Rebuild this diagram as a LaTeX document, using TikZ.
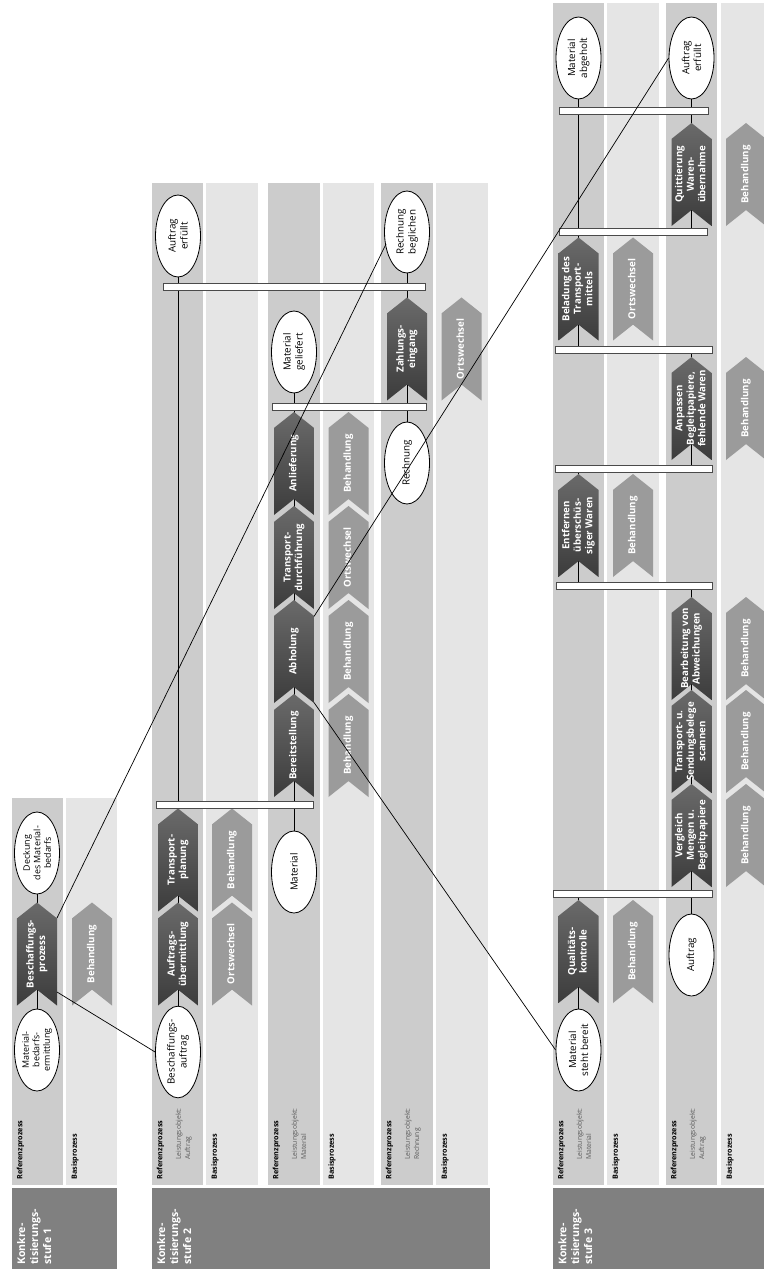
\documentclass[tikz,border=0pt]{standalone}
\usepackage{fontspec}
\setmainfont{Open Sans}
\usetikzlibrary{shapes.geometric,shapes.symbols,calc}

\definecolor{refgray}{HTML}{CCCCCC}
\definecolor{basgray}{HTML}{E5E5E5}
\definecolor{stufegray}{HTML}{808080}
\definecolor{darkhi}{HTML}{6A6A6A}
\definecolor{darklo}{HTML}{3C3C3C}
\definecolor{lightproc}{HTML}{9B9B9B}
\definecolor{barline}{HTML}{4A4A4A}
\definecolor{objgray}{HTML}{5A5A5A}

\pgfdeclarelayer{strips}
\pgfdeclarelayer{links}
\pgfsetlayers{strips,links,main}

% step text: centred lines that may stick out of the chevron body
\newcommand{\steptext}[1]{\makebox[1.9cm][c]{\begin{tabular}{@{}c@{}}#1\end{tabular}}}

\tikzset{
  procbase/.style={signal, signal to=east, signal from=west, signal pointer angle=103,
    rotate=90, minimum width=3.09cm, minimum height=1.2cm, inner sep=0pt,
    text=white, font=\fontsize{8.3}{9.8}\selectfont\bfseries},
  procdark/.style={procbase, top color=darkhi, bottom color=darklo},
  proclight/.style={procbase, fill=lightproc},
  event/.style={ellipse, draw, line width=0.7pt, fill=white, rotate=90,
    minimum width=2.46cm, minimum height=1.35cm, inner sep=0pt, align=center,
    font=\fontsize{8.4}{10.2}\selectfont},
  smallevent/.style={event, font=\fontsize{7.6}{9}\selectfont},
  syncbar/.style={rectangle, draw=barline, line width=0.8pt, fill=white,
    minimum height=0.21cm, inner sep=0pt},
  lanehead/.style={rotate=90, anchor=north west, align=left, inner sep=0pt,
    font=\fontsize{6.2}{7.5}\selectfont\bfseries},
  laneobj/.style={rotate=90, anchor=north west, align=left, inner sep=0pt,
    text=objgray, font=\fontsize{5.8}{7.8}\selectfont},
  stufehead/.style={rotate=90, anchor=north west, align=left, inner sep=0pt,
    text=white, font=\fontsize{9}{11}\selectfont\bfseries},
  link/.style={draw, line width=0.6pt}
}

\begin{document}
\begin{tikzpicture}[x=0.03cm,y=-0.03cm]
  \useasboundingbox (0,0) rectangle (764,1269);
  \clip (0,0) rectangle (764,1269);

  % lanes
  \begin{pgfonlayer}{strips}
    \fill[refgray] (12,798) rectangle (63,1185);
    \fill[basgray] (66,798) rectangle (117,1185);
    \fill[stufegray] (12,1188) rectangle (117,1269);

    \fill[refgray] (152,183) rectangle (203,1185);
    \fill[basgray] (206,183) rectangle (258,1185);
    \fill[refgray] (268,183) rectangle (320,1185);
    \fill[basgray] (323,183) rectangle (374,1185);
    \fill[refgray] (381,183) rectangle (433,1185);
    \fill[basgray] (436,183) rectangle (488,1185);
    \fill[stufegray] (152,1188) rectangle (490,1269);

    \fill[refgray] (553,3) rectangle (604,1185);
    \fill[basgray] (607,3) rectangle (659,1185);
    \fill[refgray] (666,3) rectangle (717,1185);
    \fill[basgray] (721,3) rectangle (772,1185);
    \fill[stufegray] (553,1188) rectangle (772,1269);
  \end{pgfonlayer}

  % lane headings
  \node[stufehead] (st1) at (17,1265) {Konkre-\\tisierungs-\\stufe 1};
  \node[stufehead] (st2) at (157,1265) {Konkre-\\tisierungs-\\stufe 2};
  \node[stufehead] (st3) at (558,1265) {Konkre-\\tisierungs-\\stufe 3};

  \node[lanehead] (r1) at (16.5,1180) {Referenzprozess};
  \node[lanehead] (b1) at (71,1180) {Basisprozess};
  \node[lanehead] (r2a) at (156.5,1180) {Referenzprozess};
  \node[laneobj] (o2a) at (175.5,1160) {Leistungsobjekt:\\Auftrag};
  \node[lanehead] (b2a) at (211,1180) {Basisprozess};
  \node[lanehead] (r2m) at (272.5,1180) {Referenzprozess};
  \node[laneobj] (o2m) at (291.5,1160) {Leistungsobjekt:\\Material};
  \node[lanehead] (b2m) at (328,1180) {Basisprozess};
  \node[lanehead] (r2r) at (385.5,1180) {Referenzprozess};
  \node[laneobj] (o2r) at (404.5,1160) {Leistungsobjekt:\\Rechnung};
  \node[lanehead] (b2r) at (441,1180) {Basisprozess};
  \node[lanehead] (r3m) at (557.5,1180) {Referenzprozess};
  \node[laneobj] (o3m) at (576.5,1160) {Leistungsobjekt:\\Material};
  \node[lanehead] (b3m) at (612,1180) {Basisprozess};
  \node[lanehead] (r3a) at (670.5,1180) {Referenzprozess};
  \node[laneobj] (o3a) at (689.5,1160) {Leistungsobjekt:\\Auftrag};
  \node[lanehead] (b3a) at (726,1180) {Basisprozess};

  % Konkretisierungsstufe 1
  \node[smallevent] (mbe) at (37,1050) {Material-\\bedarfs-\\ermittlung};
  \node[procdark] (bp) at (37,954) {\steptext{Beschaffungs-\\prozess}};
  \node[smallevent] (dmb) at (37,853) {Deckung\\des Material-\\bedarfs};
  \node[proclight] (bh1) at (92,954) {\steptext{Behandlung}};

  % Konkretisierungsstufe 2
  \node[event] (ba) at (178,1052) {Beschaffungs-\\auftrag};
  \node[procdark] (aue) at (178,954) {\steptext{Auftrags-\\übermittlung}};
  \node[procdark] (tpl) at (178,860) {\steptext{Transport-\\planung}};
  \node[event] (aerf2) at (178,236) {Auftrag\\erfüllt};
  \node[proclight] (ow21) at (232,954) {\steptext{Ortswechsel}};
  \node[proclight] (bh21) at (232,860) {\steptext{Behandlung}};

  \node[event] (mat) at (294,872) {Material};
  \node[procdark] (ber) at (294,745.5) {\steptext{Bereitstellung}};
  \node[procdark] (abh) at (294,651.5) {\steptext{Abholung}};
  \node[procdark] (tdf) at (294,557.5) {\steptext{Transport-\\durchführung}};
  \node[procdark] (anl) at (294,463.5) {\steptext{Anlieferung}};
  \node[event] (mgel) at (294,352) {Material\\geliefert};
  \node[proclight] (bh22) at (348.5,745.5) {\steptext{Behandlung}};
  \node[proclight] (bh23) at (348.5,651.5) {\steptext{Behandlung}};
  \node[proclight] (ow22) at (348.5,557.5) {\steptext{Ortswechsel}};
  \node[proclight] (bh24) at (348.5,463.5) {\steptext{Behandlung}};

  \node[event] (rech) at (407,463) {Rechnung};
  \node[procdark] (zei) at (407,349) {\steptext{Zahlungs-\\eingang}};
  \node[event] (rbeg) at (407,232) {Rechnung\\beglichen};
  \node[proclight] (ow23) at (461.5,349) {\steptext{Ortswechsel}};

  \node[syncbar, minimum width=4.71cm] (sb21) at (234.5,804.5) {};
  \node[syncbar, minimum width=4.62cm] (sb22) at (349,407) {};
  \node[syncbar, minimum width=7.86cm] (sb23) at (294,286.5) {};

  % Konkretisierungsstufe 3
  \node[event] (msb) at (578.5,1050) {Material\\steht bereit};
  \node[procdark] (qk) at (578.5,951.5) {\steptext{Qualitäts-\\kontrolle}};
  \node[procdark] (eue) at (578.5,525.5) {\steptext{Entfernen\\überschüs-\\siger Waren}};
  \node[procdark] (btm) at (578.5,289) {\steptext{Beladung des\\Transport-\\mittels}};
  \node[event] (mab) at (578.5,58) {Material\\abgeholt};
  \node[proclight] (bh31) at (633,951.5) {\steptext{Behandlung}};
  \node[proclight] (bh32) at (633,525.5) {\steptext{Behandlung}};
  \node[proclight] (ow31) at (633,289) {\steptext{Ortswechsel}};

  \node[event] (auf) at (691.5,955) {Auftrag};
  \node[procdark] (vgl) at (691.5,835.5) {\steptext{Vergleich\\Mengen u.\\Begleitpapiere}};
  \node[procdark] (tss) at (691.5,741.5) {\steptext{Transport- u.\\Sendungsbelege\\scannen}};
  \node[procdark] (bva) at (691.5,648.5) {\steptext{Bearbeitung von\\Abweichungen}};
  \node[procdark] (abf) at (691.5,408.5) {\steptext{Anpassen\\Begleitpapiere,\\fehlende Waren}};
  \node[procdark] (qwu) at (691.5,174.5) {\steptext{Quittierung\\Waren-\\übernahme}};
  \node[event] (aerf3) at (691.5,58) {Auftrag\\erfüllt};
  \node[proclight] (bh33) at (746,835.5) {\steptext{Behandlung}};
  \node[proclight] (bh34) at (746,741.5) {\steptext{Behandlung}};
  \node[proclight] (bh35) at (746,648.5) {\steptext{Behandlung}};
  \node[proclight] (bh36) at (746,408.5) {\steptext{Behandlung}};
  \node[proclight] (bh37) at (746,174.5) {\steptext{Behandlung}};

  \node[syncbar, minimum width=4.77cm] (sb31) at (632.5,894) {};
  \node[syncbar, minimum width=4.68cm] (sb32) at (634,586) {};
  \node[syncbar, minimum width=4.71cm] (sb33) at (633.5,469) {};
  \node[syncbar, minimum width=4.71cm] (sb34) at (633.5,349.5) {};
  \node[syncbar, minimum width=4.44cm] (sb35) at (633,231.5) {};
  \node[syncbar, minimum width=4.47cm] (sb36) at (633.5,110.5) {};

  % sequence lines behind the steps
  \begin{pgfonlayer}{links}
    \draw[link] (mbe.center) -- (dmb.center);
    \draw[link] (ba.center) -- (aerf2.center);
    \draw[link] (mat.center) -- (mgel.center);
    \draw[link] (rech.center) -- (rbeg.center);
    \draw[link] (msb.center) -- (msb |- sb31);
    \draw[link] (eue |- sb32) -- (eue |- sb33);
    \draw[link] (btm |- sb34) -- (mab.center);
    \draw[link] (auf.center) -- (auf |- sb32);
    \draw[link] (abf |- sb33) -- (abf |- sb34);
    \draw[link] (qwu |- sb35) -- (aerf3.center);
  \end{pgfonlayer}

  % refinement links between the stages
  \draw[link] ($(bp.center)+(20,38)$) -- (ba.north);
  \draw[link] ($(bp.center)+(20,-36)$) -- ($(rbeg.center)+(-21,12)$);
  \draw[link] ($(abh.center)+(20,51)$) -- (msb.north);
  \draw[link] ($(abh.center)+(20,-35)$) -- (aerf3.north);
\end{tikzpicture}
\end{document}
